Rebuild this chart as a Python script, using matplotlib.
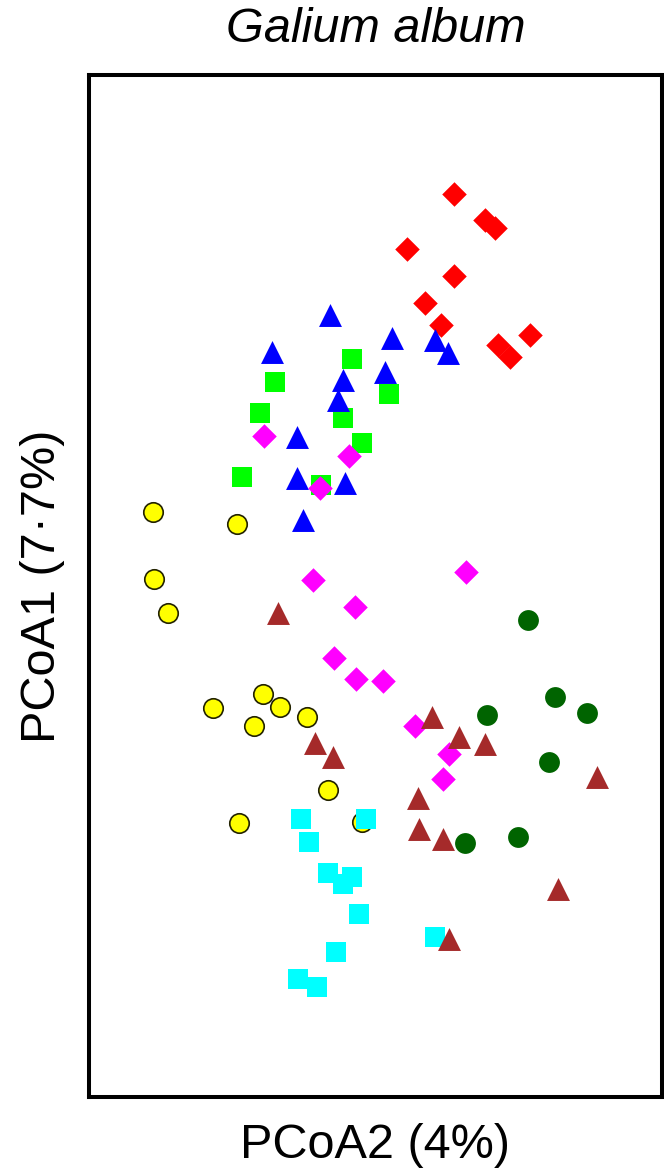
import matplotlib
matplotlib.use("Agg")
import matplotlib.pyplot as plt

# PCoA scores for each group (PCoA2 on x, PCoA1 on y).
red_x = [0.084, 0.115, 0.125, 0.037, 0.084, 0.055, 0.071, 0.128, 0.140, 0.160]
red_y = [0.391, 0.365, 0.357, 0.336, 0.309, 0.282, 0.260, 0.240, 0.228, 0.250]

green_x = [-0.018, -0.095, 0.019, -0.110, -0.027, -0.008, -0.128, -0.049]
green_y = [0.226, 0.203, 0.191, 0.172, 0.167, 0.142, 0.108, 0.100]

blue_x = [-0.040, -0.098, 0.022, 0.065, 0.078, 0.015, -0.027, -0.032, -0.073, -0.073, -0.025, -0.067]
blue_y = [0.270, 0.233, 0.247, 0.245, 0.232, 0.213, 0.205, 0.185, 0.148, 0.107, 0.102, 0.065]

magenta_x = [-0.106, -0.021, -0.050, -0.057, 0.096, -0.015, -0.036, -0.014, 0.013, 0.045, 0.079, 0.073]
magenta_y = [0.149, 0.129, 0.097, 0.005, 0.013, -0.022, -0.073, -0.094, -0.096, -0.141, -0.169, -0.194]

yellow_x = [-0.217, -0.133, -0.216, -0.202, -0.107, -0.157, -0.090, -0.063, -0.116, -0.042, -0.131, -0.008]
yellow_y = [0.073, 0.061, 0.006, -0.028, -0.109, -0.123, -0.122, -0.132, -0.141, -0.205, -0.238, -0.237]

cyan_x = [-0.069, -0.004, -0.061, -0.042, -0.027, -0.018, -0.011, 0.065, -0.034, -0.072, -0.053]
cyan_y = [-0.234, -0.234, -0.257, -0.288, -0.299, -0.292, -0.329, -0.352, -0.367, -0.394, -0.402]

brown_x = [-0.092, -0.055, -0.037, 0.062, 0.089, 0.115, 0.227, 0.048, 0.049, 0.073, 0.188, 0.079]
brown_y = [-0.028, -0.158, -0.172, -0.132, -0.152, -0.159, -0.192, -0.213, -0.244, -0.254, -0.304, -0.354]

dkgreen_x = [0.158, 0.185, 0.217, 0.117, 0.179, 0.148, 0.095]
dkgreen_y = [-0.035, -0.112, -0.128, -0.130, -0.177, -0.252, -0.258]

plt.rcParams["font.family"] = ["Liberation Sans", "DejaVu Sans"]

fig = plt.figure(figsize=(6.64, 11.7), dpi=100)
ax = fig.add_axes([0.134, 0.0628, 0.863, 0.873])

# draw order matters for the overlaps
ax.scatter(red_x, red_y, marker="D", s=12.5**2, color="#FF0000", linewidths=0)
ax.scatter(green_x, green_y, marker="s", s=13.7**2, color="#00FF00", linewidths=0)
ax.scatter(blue_x, blue_y, marker="^", s=16.5**2, color="#0000FF", linewidths=0)
ax.scatter(magenta_x, magenta_y, marker="D", s=12.5**2, color="#FF00FF", linewidths=0)
ax.scatter(yellow_x, yellow_y, marker="o", s=14**2, facecolor="#FFFF00", edgecolor="#222200", linewidths=1.2)
ax.scatter(cyan_x, cyan_y, marker="s", s=13.7**2, color="#00FFFF", linewidths=0)
ax.scatter(brown_x, brown_y, marker="^", s=16.5**2, color="#A52A2A", linewidths=0)
ax.scatter(dkgreen_x, dkgreen_y, marker="o", s=15**2, color="#006400", linewidths=0)

ax.set_xlim(-0.281, 0.292)
ax.set_ylim(-0.5115, 0.510)
ax.set_xticks([])
ax.set_yticks([])
for sp in ax.spines.values():
	sp.set_linewidth(2.9)

ax.set_title("Galium album", fontsize=35, style="italic", pad=24)
ax.set_xlabel("PCoA2 (4%)", fontsize=35, labelpad=19)
ax.set_ylabel("PCoA1 (7\u00b77%)", fontsize=35, labelpad=17)

fig.savefig("out.png", dpi=100)
